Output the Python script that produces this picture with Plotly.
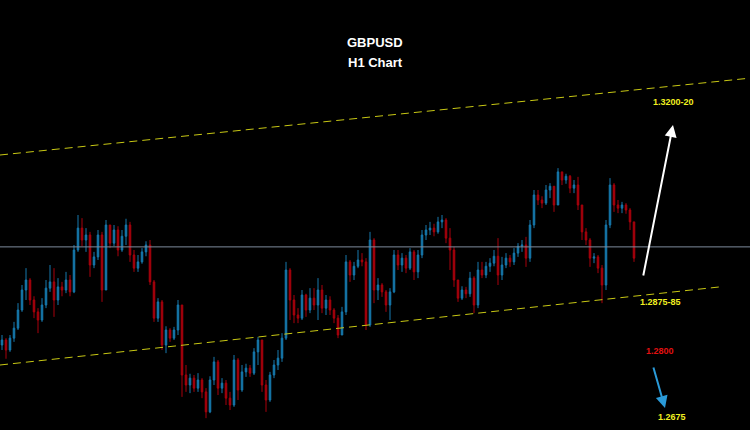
import plotly.graph_objects as go

first_open = 1.2808
close = [1.2816,1.2800,1.2819,1.2835,1.2864,1.2896,1.2912,1.2880,1.2861,1.2848,
         1.2872,1.2899,1.2909,1.2880,1.2901,1.2896,1.2912,1.2893,1.2960,1.2995,
         1.2976,1.2984,1.2936,1.2949,1.2984,1.2896,1.3000,1.2971,1.2992,1.2960,
         1.2982,1.3000,1.2952,1.2931,1.2941,1.2957,1.2968,1.2909,1.2851,1.2877,
         1.2808,1.2832,1.2819,1.2832,1.2872,1.2760,1.2744,1.2755,1.2739,1.2752,
         1.2733,1.2701,1.2752,1.2781,1.2739,1.2747,1.2723,1.2712,1.2784,1.2736,
         1.2765,1.2771,1.2763,1.2797,1.2816,1.2744,1.2720,1.2760,1.2776,1.2787,
         1.2819,1.2928,1.2880,1.2856,1.2851,1.2888,1.2864,1.2883,1.2872,1.2896,
         1.2867,1.2880,1.2864,1.2851,1.2824,1.2861,1.2941,1.2920,1.2934,1.2944,
         1.2941,1.2840,1.2976,1.2896,1.2904,1.2893,1.2872,1.2893,1.2952,1.2936,
         1.2947,1.2931,1.2957,1.2925,1.2952,1.2984,1.2992,1.2995,1.2989,1.3005,
         1.3008,1.2979,1.2960,1.2912,1.2883,1.2896,1.2890,1.2915,1.2872,1.2928,
         1.2920,1.2934,1.2939,1.2950,1.2920,1.2936,1.2947,1.2941,1.2955,1.2966,
         1.2968,1.2947,1.3000,1.3048,1.3040,1.3035,1.3056,1.3062,1.3032,1.3085,
         1.3072,1.3078,1.3059,1.3064,1.3032,1.2989,1.2976,1.2947,1.2949,1.2931,
         1.2904,1.3000,1.3064,1.3032,1.3027,1.3032,1.3024,1.3005,1.2947]
high = [1.2824,1.2819,1.2824,1.2845,1.2875,1.2904,1.2931,1.2915,1.2886,1.2867,
        1.2883,1.2912,1.2936,1.2931,1.2915,1.2909,1.2925,1.2920,1.2968,1.3016,
        1.3011,1.2995,1.2989,1.2957,1.2992,1.2989,1.3008,1.2995,1.3000,1.2998,
        1.2992,1.3010,1.3005,1.2960,1.2952,1.2963,1.2974,1.2976,1.2912,1.2883,
        1.2880,1.2838,1.2835,1.2837,1.2880,1.2872,1.2776,1.2762,1.2760,1.2763,
        1.2755,1.2739,1.2758,1.2789,1.2784,1.2755,1.2752,1.2733,1.2792,1.2787,
        1.2776,1.2778,1.2776,1.2803,1.2821,1.2813,1.2752,1.2765,1.2784,1.2800,
        1.2827,1.2941,1.2931,1.2888,1.2867,1.2896,1.2890,1.2899,1.2899,1.2915,
        1.2904,1.2888,1.2886,1.2867,1.2856,1.2869,1.2952,1.2944,1.2941,1.2960,
        1.2955,1.2947,1.2989,1.2979,1.2915,1.2907,1.2896,1.2899,1.2960,1.2960,
        1.2955,1.2952,1.2963,1.2960,1.2960,1.2992,1.3000,1.3005,1.3002,1.3013,
        1.3016,1.3011,1.2995,1.2965,1.2912,1.2902,1.2901,1.2925,1.2918,1.2941,
        1.2941,1.2941,1.2947,1.2960,1.2979,1.2949,1.2955,1.2952,1.2963,1.2971,
        1.2976,1.2981,1.3008,1.3056,1.3056,1.3046,1.3064,1.3067,1.3059,1.3091,
        1.3085,1.3082,1.3080,1.3072,1.3077,1.3032,1.2995,1.2979,1.2955,1.2952,
        1.2936,1.3008,1.3075,1.3067,1.3040,1.3037,1.3035,1.3027,1.3000]
low = [1.2800,1.2786,1.2797,1.2813,1.2832,1.2861,1.2880,1.2872,1.2851,1.2827,
       1.2845,1.2867,1.2893,1.2853,1.2872,1.2886,1.2891,1.2886,1.2891,1.2957,
       1.2966,1.2957,1.2917,1.2931,1.2944,1.2877,1.2896,1.2963,1.2966,1.2950,
       1.2957,1.2968,1.2941,1.2925,1.2925,1.2938,1.2950,1.2904,1.2845,1.2845,
       1.2800,1.2795,1.2813,1.2816,1.2824,1.2725,1.2733,1.2731,1.2733,1.2733,
       1.2723,1.2691,1.2699,1.2744,1.2728,1.2731,1.2712,1.2704,1.2709,1.2720,
       1.2733,1.2757,1.2757,1.2760,1.2776,1.2733,1.2701,1.2717,1.2755,1.2768,
       1.2781,1.2816,1.2848,1.2843,1.2843,1.2848,1.2853,1.2859,1.2864,1.2848,
       1.2859,1.2856,1.2856,1.2843,1.2819,1.2827,1.2856,1.2909,1.2912,1.2931,
       1.2934,1.2832,1.2837,1.2875,1.2880,1.2885,1.2861,1.2848,1.2891,1.2928,
       1.2925,1.2923,1.2928,1.2912,1.2915,1.2947,1.2976,1.2984,1.2982,1.2986,
       1.2995,1.2971,1.2928,1.2901,1.2877,1.2880,1.2883,1.2885,1.2859,1.2867,
       1.2915,1.2915,1.2925,1.2934,1.2904,1.2912,1.2931,1.2933,1.2936,1.2949,
       1.2957,1.2933,1.2941,1.2995,1.3032,1.3027,1.3032,1.3043,1.3021,1.3032,
       1.3064,1.3066,1.3051,1.3051,1.3024,1.2976,1.2968,1.2933,1.2939,1.2923,
       1.2875,1.2896,1.2995,1.3021,1.3019,1.3019,1.3018,1.2992,1.2941]

opens = [first_open] + close[:-1]
high = [max(h, o, c) for h, o, c in zip(high, opens, close)]
low = [min(l, o, c) for l, o, c in zip(low, opens, close)]
bars = list(range(len(close)))

upper_channel_x = [-0.5, 187.0]
upper_channel_y = [1.3112, 1.3235]
lower_channel_x = [-0.5, 179.5]
lower_channel_y = [1.2776, 1.2901]
pivot_level = 1.2965

fig = go.Figure()
fig.add_trace(go.Candlestick(
    x=bars, open=opens, high=high, low=low, close=close,
    increasing=dict(line=dict(color="#1679ad", width=1), fillcolor="#1679ad"),
    decreasing=dict(line=dict(color="#a8000c", width=1), fillcolor="#a8000c"),
    whiskerwidth=0, showlegend=False, hoverinfo="skip"))
fig.add_trace(go.Scatter(x=upper_channel_x, y=upper_channel_y, mode="lines",
                         line=dict(color="#c8c814", width=1, dash="8px,5px"), showlegend=False))
fig.add_trace(go.Scatter(x=lower_channel_x, y=lower_channel_y, mode="lines",
                         line=dict(color="#c8c814", width=1, dash="8px,5px"), showlegend=False))
fig.add_hline(y=pivot_level, line=dict(color="#7d8a9c", width=1))

W, H = 750, 430
def px(x): return x / W
def py(y): return 1 - y / H

REFX, REFY = "x domain", "y domain"
ann = []
ann.append(dict(x=px(375), y=py(43), text="<b>GBPUSD</b>", font=dict(color="white", size=13)))
ann.append(dict(x=px(375), y=py(63), text="<b>H1 Chart</b>", font=dict(color="white", size=13)))
ann.append(dict(x=px(673), y=py(102), text="<b>1.3200-20</b>", font=dict(color="#f0f020", size=9)))
ann.append(dict(x=px(660), y=py(302), text="<b>1.2875-85</b>", font=dict(color="#f0f020", size=9)))
ann.append(dict(x=px(660), y=py(351), text="<b>1.2800</b>", font=dict(color="#e01010", size=9)))
ann.append(dict(x=px(672), y=py(417), text="<b>1.2675</b>", font=dict(color="#f0f020", size=9)))
for a in ann:
    a.update(xref=REFX, yref=REFY, showarrow=False, xanchor="center", yanchor="middle",
             font=dict(family="Liberation Sans, Arial", **a["font"]))
ann.append(dict(xref=REFX, yref=REFY, axref=REFX, ayref=REFY,
                x=px(673), y=py(125), ax=px(643), ay=py(277), text="", showarrow=True,
                arrowhead=2, arrowsize=1.2, arrowwidth=2, arrowcolor="white"))
ann.append(dict(xref=REFX, yref=REFY, axref=REFX, ayref=REFY,
                x=px(665), y=py(408), ax=px(653), ay=py(366), text="", showarrow=True,
                arrowhead=2, arrowsize=1.2, arrowwidth=2, arrowcolor="#2a9ad8"))

fig.update_layout(
    width=W, height=H, margin=dict(l=0, r=0, t=0, b=0),
    paper_bgcolor="black", plot_bgcolor="black", boxgap=0.45,
    xaxis=dict(range=[-0.5, 187.0], visible=False, rangeslider=dict(visible=False)),
    yaxis=dict(range=[1.2672, 1.3360], visible=False),
    annotations=ann, showlegend=False)

fig.write_html("out.html", config={"displayModeBar": False},
               post_script="document.body.style.margin='0';document.body.style.background='black';")
